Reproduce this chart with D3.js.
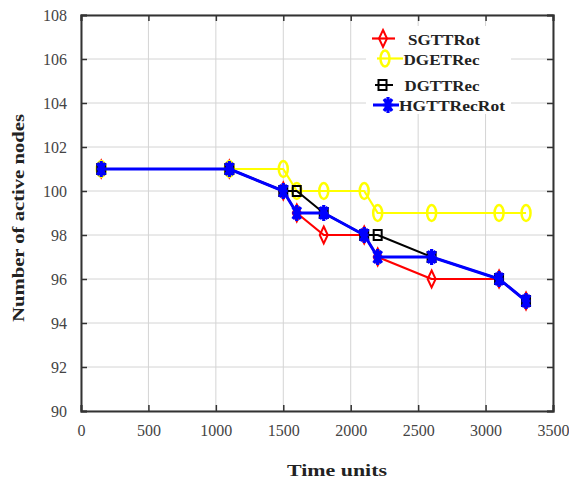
<!DOCTYPE html>
<html>
<head>
<meta charset="utf-8">
<script src="https://cdn.jsdelivr.net/npm/d3@7/dist/d3.min.js"></script>
<style>
html,body{margin:0;padding:0;background:#fff;}
svg{display:block;}
</style>
</head>
<body>
<div id="chart"></div>
<script>
const timeUnits = [150, 1100, 1500, 1600, 1800, 2100, 2200, 2600, 3100, 3300];
const sgttRot    = [101, 101, 100, 99, 98, 98, 97, 96, 96, 95];
const dgetRec    = [101, 101, 101, 100, 100, 100, 99, 99, 99, 99];
const dgttRec    = [101, 101, 100, 100, 99, 98, 98, 97, 96, 95];
const hgttRecRot = [101, 101, 100, 99, 99, 98, 97, 97, 96, 95];
const seriesNames = ["SGTTRot", "DGETRec", "DGTTRec", "HGTTRecRot"];
const xTicks = [0, 500, 1000, 1500, 2000, 2500, 3000, 3500];
const yTicks = [90, 92, 94, 96, 98, 100, 102, 104, 106, 108];

const W = 569, H = 481;
const m = {left: 81, right: 16, top: 15, bottom: 70};
const svg = d3.select("#chart").append("svg").attr("width", W).attr("height", H);

const x = d3.scaleLinear().domain([0, 3500]).range([m.left, W - m.right]);
const y = d3.scaleLinear().domain([90, 108]).range([H - m.bottom, m.top]);

const serif = "'Liberation Serif','Times New Roman',serif";

// grid
svg.append("g").selectAll("line").data(xTicks).join("line")
  .attr("x1", d => x(d)).attr("x2", d => x(d)).attr("y1", y(90)).attr("y2", y(108))
  .attr("stroke", "#d4d4d4").attr("stroke-width", 1);
svg.append("g").selectAll("line").data(yTicks).join("line")
  .attr("y1", d => y(d)).attr("y2", d => y(d)).attr("x1", x(0)).attr("x2", x(3500))
  .attr("stroke", "#d4d4d4").attr("stroke-width", 1);

// axes
const tickLen = 6;
const gx = svg.append("g").attr("transform", `translate(0,${y(90)})`)
  .call(d3.axisBottom(x).tickValues(xTicks).tickSize(-tickLen).tickPadding(14).tickFormat(d3.format("d")));
const gxt = svg.append("g").attr("transform", `translate(0,${y(108)})`)
  .call(d3.axisTop(x).tickValues(xTicks).tickSize(-tickLen).tickFormat(""));
const gy = svg.append("g").attr("transform", `translate(${x(0)},0)`)
  .call(d3.axisLeft(y).tickValues(yTicks).tickSize(-tickLen).tickPadding(14).tickFormat(d3.format("d")));
const gyr = svg.append("g").attr("transform", `translate(${x(3500)},0)`)
  .call(d3.axisRight(y).tickValues(yTicks).tickSize(-tickLen).tickFormat(""));
[gx, gxt, gy, gyr].forEach(g => {
  g.select(".domain").attr("stroke", "#333").attr("stroke-width", 2);
  g.selectAll(".tick line").attr("stroke", "#333").attr("stroke-width", 1.5);
  g.selectAll("text").attr("font-family", serif).attr("font-size", 16).attr("fill", "#444");
});

// markers
const markers = {
  SGTTRot: g => g.append("path").attr("d", "M0,-8.5L4,0L0,8.5L-4,0Z"),
  DGETRec: g => g.append("ellipse").attr("rx", 4.5).attr("ry", 8),
  DGTTRec: g => g.append("rect").attr("x", -4).attr("y", -5).attr("width", 8).attr("height", 10),
  HGTTRecRot: g => g.append("path").attr("d", "M0,-8L0,8M-4.5,0L4.5,0M-4,-6L4,6M-4,6L4,-6")
};
const colors = {SGTTRot: "#ff0000", DGETRec: "#ffff00", DGTTRec: "#000000", HGTTRecRot: "#0000ff"};
const widths = {SGTTRot: 2.2, DGETRec: 2.2, DGTTRec: 2, HGTTRecRot: 3};
const mwidths = {SGTTRot: 2, DGETRec: 2.5, DGTTRec: 2, HGTTRecRot: 3.2};
const values = {SGTTRot: sgttRot, DGETRec: dgetRec, DGTTRec: dgttRec, HGTTRecRot: hgttRecRot};

const line = d3.line().x(d => x(d[0])).y(d => y(d[1]));
seriesNames.forEach(name => {
  const pts = timeUnits.map((t, i) => [t, values[name][i]]);
  const g = svg.append("g");
  g.append("path").attr("d", line(pts)).attr("fill", "none")
    .attr("stroke", colors[name]).attr("stroke-width", widths[name]).attr("stroke-linejoin", "round");
  pts.forEach(p => {
    const mg = g.append("g").attr("transform", `translate(${x(p[0])},${y(p[1])})`);
    markers[name](mg).attr("fill", "none").attr("stroke", colors[name]).attr("stroke-width", mwidths[name]);
  });
});

// legend
const lg = svg.append("g");
lg.append("rect").attr("x", 366).attr("y", 26).attr("width", 145).attr("height", 88).attr("fill", "#fff");
const legendItems = [
  {name: "SGTTRot", mx: 383, my: 38.5, l1: 372, l2: 395, tx: 408, ty: 44.5, tl: 72},
  {name: "DGETRec", mx: 385, my: 58.5, l1: 377, l2: 403, tx: 403.5, ty: 64.5, tl: 76},
  {name: "DGTTRec", mx: 382.5, my: 85, l1: 375, l2: 393, tx: 404.5, ty: 91, tl: 75},
  {name: "HGTTRecRot", mx: 388, my: 105, l1: 373, l2: 399, tx: 399, ty: 111, tl: 106}
];
legendItems.forEach(it => {
  lg.append("line").attr("x1", it.l1).attr("x2", it.l2).attr("y1", it.my).attr("y2", it.my)
    .attr("stroke", colors[it.name]).attr("stroke-width", widths[it.name]);
  const mg = lg.append("g").attr("transform", `translate(${it.mx},${it.my})`);
  markers[it.name](mg).attr("fill", "none").attr("stroke", colors[it.name]).attr("stroke-width", mwidths[it.name]);
  lg.append("text").attr("x", it.tx).attr("y", it.ty).text(it.name)
    .attr("font-family", serif).attr("font-size", 15).attr("font-weight", "bold").attr("fill", "#222")
    .attr("textLength", it.tl).attr("lengthAdjust", "spacingAndGlyphs");
});

// axis titles
svg.append("text").attr("x", 337).attr("y", 476).attr("text-anchor", "middle")
  .attr("font-family", serif).attr("font-size", 17).attr("font-weight", "bold").attr("fill", "#222")
  .attr("textLength", 100).attr("lengthAdjust", "spacingAndGlyphs").text("Time units");
svg.append("text").attr("transform", "translate(24,218) rotate(-90)").attr("text-anchor", "middle")
  .attr("font-family", serif).attr("font-size", 17).attr("font-weight", "bold").attr("fill", "#222")
  .attr("textLength", 208).attr("lengthAdjust", "spacingAndGlyphs").text("Number of active nodes");
</script>
</body>
</html>
